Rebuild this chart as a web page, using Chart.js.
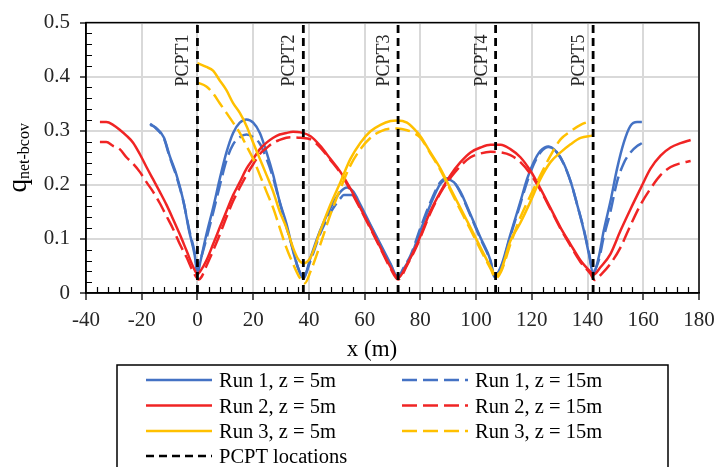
<!DOCTYPE html>
<html>
<head>
<meta charset="utf-8">
<script src="https://cdn.jsdelivr.net/npm/chart.js@4.4.0/dist/chart.umd.min.js"></script>
<style>
  html, body { margin: 0; padding: 0; background: #fff; }
  #wrap { width: 727px; height: 467px; }
</style>
</head>
<body>
<div id="wrap"><canvas id="myChart" width="727" height="467"></canvas></div>
<script>
// values
const run1z5X = [-17, -15, -12, -10, -7.5, -5, -3, -1, 0, 1, 3.2, 5.6, 8, 10.4, 12.8, 15.2, 17.6, 20, 22.4, 24.8, 27.2, 29.5, 32, 34.3, 36, 38, 40.6, 44, 47.7, 51.3, 53.7, 56, 58.5, 62, 65.7, 69.3, 72, 74, 76.5, 80, 83.6, 87.2, 89.6, 92, 94.4, 98, 101.6, 105.2, 106.5, 109, 112.3, 115.9, 118.3, 120.7, 123.1, 126, 129, 131.5, 134, 136.3, 138.7, 140.5, 142, 144, 145.8, 148.2, 150.6, 153, 155.4, 157.8, 159.5];
const run1z5Y = [0.311, 0.306, 0.287, 0.254, 0.218, 0.169, 0.115, 0.070, 0.035, 0.057, 0.108, 0.157, 0.211, 0.260, 0.296, 0.315, 0.321, 0.315, 0.296, 0.260, 0.218, 0.169, 0.127, 0.078, 0.048, 0.027, 0.066, 0.115, 0.157, 0.187, 0.195, 0.187, 0.163, 0.127, 0.090, 0.054, 0.028, 0.045, 0.066, 0.115, 0.163, 0.202, 0.210, 0.205, 0.187, 0.145, 0.102, 0.060, 0.030, 0.050, 0.108, 0.169, 0.211, 0.242, 0.263, 0.271, 0.260, 0.239, 0.205, 0.163, 0.115, 0.072, 0.036, 0.066, 0.115, 0.169, 0.230, 0.278, 0.309, 0.316, 0.316];

const run1z15X = [-17, -15, -12, -10, -7.5, -5, -3, -1, 0, 1, 3.2, 5.6, 8, 10.4, 12.8, 15.2, 17.6, 20, 22.4, 24.8, 27.2, 29.5, 32, 34.3, 36, 38, 40.6, 44, 47.7, 51.3, 52.5, 56, 58.5, 62, 65.7, 69.3, 72, 74, 76.5, 80, 83.6, 87.2, 89.6, 92, 94.4, 98, 101.6, 105.2, 106.5, 109, 112.3, 115.9, 118.3, 120.7, 123.1, 126, 129, 131.5, 134, 136.3, 138.7, 140.5, 142, 144, 145.8, 148.2, 150.6, 153, 155.4, 157.8, 159.5];
const run1z15Y = [0.313, 0.305, 0.285, 0.252, 0.215, 0.168, 0.118, 0.075, 0.045, 0.060, 0.100, 0.148, 0.198, 0.245, 0.275, 0.288, 0.293, 0.288, 0.276, 0.248, 0.212, 0.168, 0.121, 0.080, 0.048, 0.030, 0.060, 0.109, 0.148, 0.175, 0.181, 0.181, 0.160, 0.125, 0.088, 0.052, 0.030, 0.047, 0.070, 0.120, 0.168, 0.205, 0.212, 0.205, 0.185, 0.143, 0.100, 0.058, 0.032, 0.048, 0.105, 0.165, 0.205, 0.238, 0.260, 0.270, 0.260, 0.238, 0.205, 0.163, 0.117, 0.075, 0.040, 0.060, 0.103, 0.150, 0.206, 0.240, 0.260, 0.272, 0.277];

const run2z5X = [-35, -32.7, -30.3, -27.9, -25.5, -23.1, -20.7, -18.3, -15.9, -13.5, -11.1, -8.7, -6.3, -3.9, -1.5, 0, 1, 3.2, 5.6, 8, 10.4, 12.8, 15.2, 17.6, 20, 22.4, 24.8, 27.2, 29.5, 31.9, 34.3, 37, 40.6, 44.1, 47.7, 51.3, 54.9, 58.5, 62.1, 65.7, 69.3, 72, 75.3, 78.8, 83.6, 87.2, 90.8, 94.4, 98, 101.6, 105.2, 108.8, 112.3, 115.9, 119.5, 123.1, 126.7, 130.3, 133.9, 137.5, 141.1, 142.2, 144.7, 148.2, 151.8, 155.4, 159, 162.6, 166.2, 169.8, 173.4, 177];
const run2z5Y = [0.316, 0.316, 0.311, 0.302, 0.291, 0.278, 0.257, 0.233, 0.210, 0.187, 0.163, 0.136, 0.108, 0.078, 0.048, 0.035, 0.040, 0.060, 0.090, 0.121, 0.151, 0.181, 0.205, 0.230, 0.248, 0.266, 0.278, 0.287, 0.293, 0.296, 0.298, 0.297, 0.290, 0.272, 0.248, 0.224, 0.193, 0.157, 0.121, 0.084, 0.048, 0.028, 0.054, 0.090, 0.151, 0.187, 0.218, 0.242, 0.260, 0.269, 0.274, 0.274, 0.266, 0.251, 0.226, 0.193, 0.157, 0.121, 0.090, 0.060, 0.039, 0.034, 0.048, 0.072, 0.115, 0.155, 0.193, 0.230, 0.254, 0.269, 0.277, 0.283];

const run2z15X = [-35, -32.7, -30.3, -27.9, -25.5, -23.1, -20.7, -18.3, -15.9, -13.5, -11.1, -8.7, -6.3, -3.9, -1.5, 0.5, 1.5, 3.2, 5.6, 8, 10.4, 12.8, 15.2, 17.6, 20, 22.4, 24.8, 27.2, 29.5, 31.9, 34.3, 37, 40.6, 44.1, 47.7, 51.3, 54.9, 58.5, 62.1, 65.7, 69.3, 72, 75.3, 78.8, 83.6, 87.2, 90.8, 94.4, 98, 101.6, 105.2, 108.8, 112.3, 115.9, 119.5, 123.1, 126.7, 130.3, 133.9, 137.5, 141.1, 142.5, 145, 148.2, 151.8, 155.4, 159, 162.6, 166.2, 169.8, 173.4, 177];
const run2z15Y = [0.279, 0.279, 0.272, 0.266, 0.251, 0.239, 0.224, 0.205, 0.187, 0.166, 0.142, 0.118, 0.090, 0.066, 0.039, 0.025, 0.030, 0.050, 0.078, 0.108, 0.140, 0.170, 0.195, 0.218, 0.238, 0.257, 0.268, 0.278, 0.283, 0.287, 0.288, 0.287, 0.284, 0.269, 0.246, 0.222, 0.190, 0.155, 0.119, 0.082, 0.045, 0.025, 0.052, 0.088, 0.148, 0.185, 0.213, 0.235, 0.251, 0.258, 0.261, 0.260, 0.255, 0.242, 0.220, 0.190, 0.155, 0.119, 0.087, 0.057, 0.035, 0.024, 0.035, 0.054, 0.084, 0.125, 0.163, 0.193, 0.218, 0.233, 0.240, 0.244];

const run3z5X = [0, 3.2, 5.6, 8, 10.4, 12.8, 15.2, 17.6, 20, 22.4, 24.8, 27.2, 29.5, 31.9, 34.3, 36.1, 38, 40.6, 44.1, 47.7, 51.3, 54.9, 58.5, 62.1, 65.7, 69.3, 71.7, 75.2, 78, 80, 83.6, 87.2, 90.8, 94.4, 98, 101.6, 105.2, 107, 108.8, 112.3, 115.9, 119.5, 123.1, 126.7, 130.3, 133.9, 137.5, 141.7];
const run3z5Y = [0.425, 0.418, 0.411, 0.393, 0.375, 0.351, 0.333, 0.309, 0.278, 0.248, 0.218, 0.187, 0.151, 0.121, 0.084, 0.063, 0.055, 0.066, 0.115, 0.163, 0.205, 0.248, 0.278, 0.299, 0.311, 0.318, 0.319, 0.315, 0.302, 0.290, 0.260, 0.230, 0.193, 0.157, 0.121, 0.084, 0.048, 0.033, 0.040, 0.096, 0.130, 0.169, 0.211, 0.242, 0.260, 0.275, 0.287, 0.291];

const run3z15X = [0, 3.2, 5.6, 8, 10.4, 12.8, 15.2, 17.6, 20, 22.4, 24.8, 27.2, 29.5, 31.9, 34.3, 36.5, 38.5, 40.6, 44.1, 47.7, 51.3, 54.9, 58.5, 62.1, 65.7, 69.3, 71.7, 75.2, 78, 80, 83.6, 87.2, 90.8, 94.4, 98, 101.6, 105.2, 107, 109, 112.3, 115.9, 119.5, 123.1, 126.7, 130.3, 133.9, 137.5, 141.7];
const run3z15Y = [0.389, 0.382, 0.369, 0.351, 0.333, 0.315, 0.296, 0.272, 0.248, 0.218, 0.187, 0.157, 0.121, 0.084, 0.054, 0.030, 0.018, 0.040, 0.090, 0.145, 0.193, 0.236, 0.266, 0.287, 0.299, 0.304, 0.304, 0.301, 0.295, 0.287, 0.258, 0.227, 0.190, 0.153, 0.117, 0.080, 0.045, 0.027, 0.040, 0.090, 0.140, 0.180, 0.218, 0.254, 0.284, 0.299, 0.311, 0.319];

const pcptX = [0, 38, 72, 107, 142];
const pcptNames = ['PCPT1', 'PCPT2', 'PCPT3', 'PCPT4', 'PCPT5'];

const xMin = -40, xMax = 180, xStep = 20, xMinor = 4;
const yMin = 0, yMax = 0.5, yStep = 0.1, yMinor = 0.02;

const BLUE = '#4472c4', RED = '#f02424', GOLD = '#ffc000';
const FONT = "'Liberation Serif', 'Times New Roman', serif";

function pts(xs, ys) {
  return xs.map((x, i) => ({ x: x, y: ys[i] }));
}

function series(label, xs, ys, color, dashed, order) {
  return {
    label: label,
    data: pts(xs, ys),
    borderColor: color,
    backgroundColor: color,
    borderWidth: 2.5,
    borderDash: dashed ? [15, 6] : [],
    pointRadius: 0,
    cubicInterpolationMode: 'monotone',
    fill: false,
    order: order
  };
}

const datasets = [
  series('Run 1, z = 5m', run1z5X, run1z5Y, BLUE, false, 6),
  series('Run 1, z = 15m', run1z15X, run1z15Y, BLUE, true, 5),
  series('Run 2, z = 5m', run2z5X, run2z5Y, RED, false, 4),
  series('Run 2, z = 15m', run2z15X, run2z15Y, RED, true, 3),
  series('Run 3, z = 5m', run3z5X, run3z5Y, GOLD, false, 2),
  series('Run 3, z = 15m', run3z15X, run3z15Y, GOLD, true, 1)
];
// one vertical dashed line per PCPT location
pcptX.forEach((x, i) => {
  datasets.push({
    label: i === 0 ? 'PCPT locations' : '',
    data: [{ x: x, y: yMin }, { x: x, y: yMax }],
    borderColor: '#000',
    borderWidth: 2.8,
    borderDash: [8, 5],
    pointRadius: 0,
    tension: 0,
    order: 0,
    isPcpt: true,
    pcptName: pcptNames[i]
  });
});

// extra drawing: minor ticks, frame, titles, PCPT names, legend box
const extras = {
  id: 'extras',
  afterDraw(chart) {
    const ctx = chart.ctx;
    const a = chart.chartArea;
    const xs = chart.scales.x, ys = chart.scales.y;
    ctx.save();

    // frame
    ctx.strokeStyle = '#000';
    ctx.lineWidth = 1.5;
    ctx.strokeRect(a.left, a.top, a.right - a.left, a.bottom - a.top);

    // minor ticks (inside)
    ctx.lineWidth = 1.2;
    ctx.beginPath();
    for (let v = xMin; v <= xMax; v += xMinor) {
      if ((v - xMin) % xStep === 0) continue;
      const px = Math.round(xs.getPixelForValue(v)) + 0.5;
      ctx.moveTo(px, a.bottom);
      ctx.lineTo(px, a.bottom - 6);
    }
    const nMinor = Math.round((yMax - yMin) / yMinor);
    for (let k = 0; k <= nMinor; k++) {
      if (k % 5 === 0) continue;
      const py = Math.round(ys.getPixelForValue(yMin + k * yMinor)) + 0.5;
      ctx.moveTo(a.left, py);
      ctx.lineTo(a.left + 6, py);
    }
    ctx.stroke();

    // PCPT names, rotated
    ctx.fillStyle = '#262626';
    ctx.font = '18px ' + FONT;
    ctx.textAlign = 'left';
    ctx.textBaseline = 'alphabetic';
    chart.data.datasets.forEach(ds => {
      if (!ds.isPcpt) return;
      const px = xs.getPixelForValue(ds.data[0].x);
      ctx.save();
      ctx.translate(px - 9, a.top + 64);
      ctx.rotate(-Math.PI / 2);
      ctx.fillText(ds.pcptName, 0, 0);
      ctx.restore();
    });

    // x axis title
    ctx.fillStyle = '#000';
    ctx.font = '23px ' + FONT;
    ctx.textAlign = 'center';
    ctx.fillText('x (m)', 372, 356);

    // y axis title q_net-bcov
    ctx.save();
    ctx.translate(26, (a.top + a.bottom) / 2);
    ctx.rotate(-Math.PI / 2);
    ctx.textAlign = 'left';
    ctx.font = '27px ' + FONT;
    const qW = ctx.measureText('q').width;
    ctx.font = '16px ' + FONT;
    const sW = ctx.measureText('net-bcov').width;
    const start = -(qW + sW) / 2;
    ctx.font = '27px ' + FONT;
    ctx.fillText('q', start, 0);
    ctx.font = '16px ' + FONT;
    ctx.fillText('net-bcov', start + qW, 3);
    ctx.restore();

    // legend box
    const box = { left: 117, top: 365, right: 668 };
    ctx.lineWidth = 1.5;
    ctx.strokeStyle = '#000';
    ctx.beginPath();
    ctx.moveTo(box.left, chart.height + 2);
    ctx.lineTo(box.left, box.top);
    ctx.lineTo(box.right, box.top);
    ctx.lineTo(box.right, chart.height + 2);
    ctx.stroke();

    const entries = chart.data.datasets.filter(ds => ds.label);
    const colX = [146, 402];
    const rowY = [380, 405.5, 431, 456];
    ctx.font = '20.5px ' + FONT;
    ctx.textAlign = 'left';
    entries.forEach((ds, i) => {
      const col = ds.isPcpt ? 0 : i % 2;
      const row = ds.isPcpt ? 3 : Math.floor(i / 2);
      const x0 = colX[col], y0 = rowY[row];
      ctx.strokeStyle = ds.borderColor;
      ctx.lineWidth = 2.5;
      ctx.setLineDash(ds.borderDash || []);
      ctx.beginPath();
      ctx.moveTo(x0, y0);
      ctx.lineTo(x0 + 66, y0);
      ctx.stroke();
      ctx.setLineDash([]);
      ctx.fillStyle = '#000';
      ctx.fillText(ds.label, x0 + 73, y0 + 7);
    });

    ctx.restore();
  }
};

const ctx = document.getElementById('myChart').getContext('2d');
const myChart = new Chart(ctx, {
  type: 'line',
  data: { datasets: datasets },
  options: {
    responsive: false,
    animation: false,
    devicePixelRatio: 1,
    layout: { padding: { left: 0, right: 28, top: 18, bottom: 0 } },
    plugins: {
      legend: { display: false },
      tooltip: { enabled: false }
    },
    scales: {
      x: {
        type: 'linear',
        min: xMin,
        max: xMax,
        afterFit: s => { s.height = 174; },
        ticks: {
          stepSize: xStep,
          padding: 8,
          color: '#262626',
          font: { family: FONT, size: 21 }
        },
        grid: { color: '#d9d9d9', lineWidth: 2, tickColor: '#000', tickLength: 7, tickWidth: 1.3 },
        border: { color: '#000', width: 1.5 }
      },
      y: {
        type: 'linear',
        min: yMin,
        max: yMax,
        afterFit: s => { s.width = 86; },
        ticks: {
          stepSize: yStep,
          padding: 10,
          color: '#262626',
          font: { family: FONT, size: 21 }
        },
        grid: { color: '#d9d9d9', lineWidth: 2, tickColor: '#000', tickLength: 6, tickWidth: 1.3 },
        border: { color: '#000', width: 1.5 }
      }
    }
  },
  plugins: [extras]
});
</script>
</body>
</html>
